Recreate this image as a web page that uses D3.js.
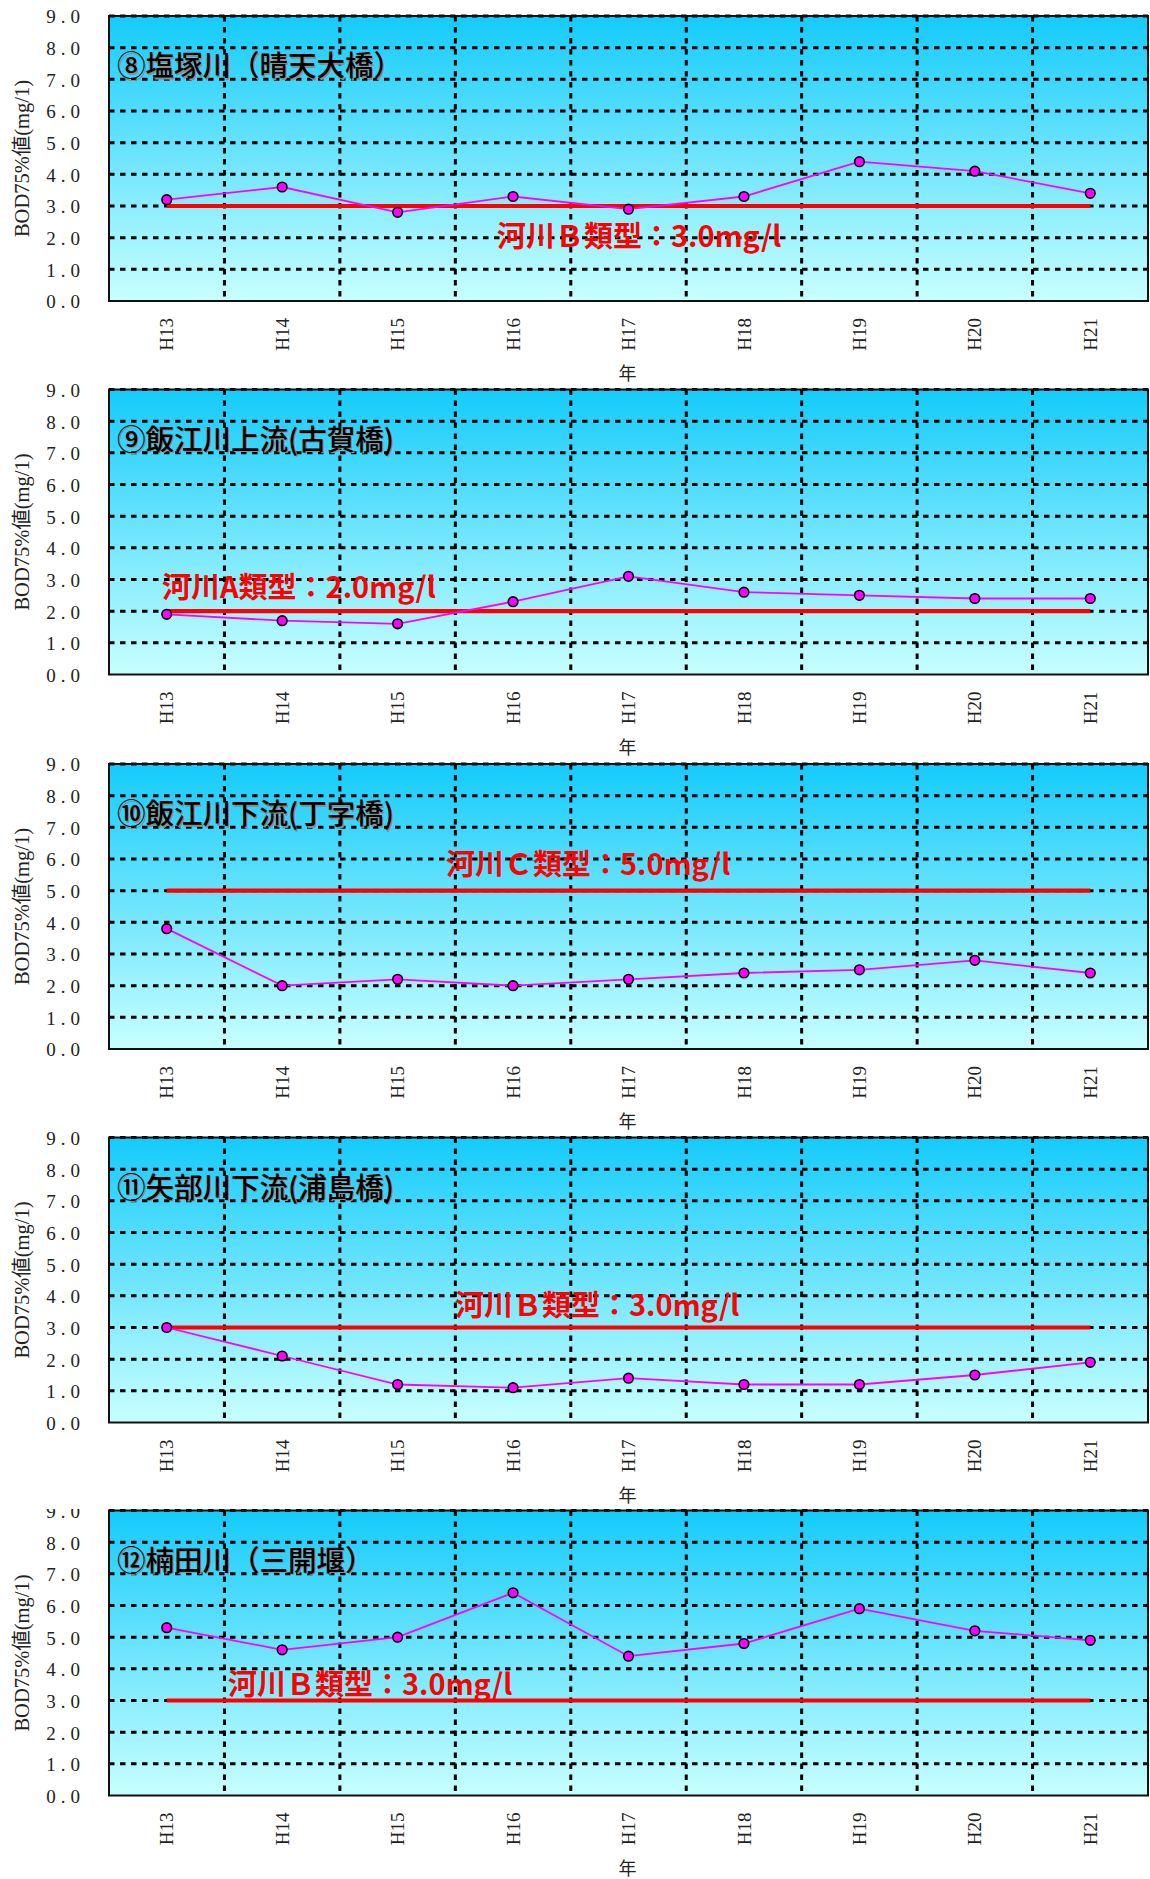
<!DOCTYPE html>
<html>
<head>
<meta charset="utf-8">
<script src="https://cdn.jsdelivr.net/npm/d3@7"></script>
<style>
  html, body { margin: 0; padding: 0; background: #ffffff; }
  svg { display: block; }
</style>
</head>
<body>
<svg id="chart" width="1150" height="1879"></svg>
<script>
// ---- data ----
const years = ["H13", "H14", "H15", "H16", "H17", "H18", "H19", "H20", "H21"];
const yTicks = [0, 1, 2, 3, 4, 5, 6, 7, 8, 9];
const stationNames = [
  "⑧塩塚川（晴天大橋）",
  "⑨飯江川上流(古賀橋)",
  "⑩飯江川下流(丁字橋)",
  "⑪矢部川下流(浦島橋)",
  "⑫楠田川（三開堰）"
];
// BOD 75% values (mg/l) per station, H13..H21
const shiozuka   = [3.2, 3.6, 2.8, 3.3, 2.9, 3.3, 4.4, 4.1, 3.4];
const hakoeUpper = [1.9, 1.7, 1.6, 2.3, 3.1, 2.6, 2.5, 2.4, 2.4];
const hakoeLower = [3.8, 2.0, 2.2, 2.0, 2.2, 2.4, 2.5, 2.8, 2.4];
const yabeLower  = [3.0, 2.1, 1.2, 1.1, 1.4, 1.2, 1.2, 1.5, 1.9];
const kusuda     = [5.3, 4.6, 5.0, 6.4, 4.4, 4.8, 5.9, 5.2, 4.9];
// environmental standard per station
const standardValues = [3.0, 2.0, 5.0, 3.0, 3.0];
const standardLabels = [
  "河川Ｂ類型：3.0mg/l",
  "河川A類型：2.0mg/l",
  "河川Ｃ類型：5.0mg/l",
  "河川Ｂ類型：3.0mg/l",
  "河川Ｂ類型：3.0mg/l"
];
const yAxisTitle = "BOD75%値(mg/1)";
const xAxisTitle = "年";

// ---- layout ----
const series = [shiozuka, hakoeUpper, hakoeLower, yabeLower, kusuda];
const plotLeft = 109, plotRight = 1148;
const panelTops = [16, 389.5, 764, 1137.5, 1510.5];
const panelHeight = 285;
// standard label placement: left offset in plot, vertical centre offset from plot top
const labelPlacement = [
  { left: 388, mid: 221 },
  { left: 53,  mid: 198 },
  { left: 337, mid: 101 },
  { left: 346, mid: 168 },
  { left: 119, mid: 174 }
];

const serif = "'Liberation Serif', 'Noto Sans CJK JP', serif";
const gothic = "'Noto Sans CJK JP', 'Noto Sans', sans-serif";

const svg = d3.select("#chart");
const defs = svg.append("defs");
const grad = defs.append("linearGradient")
  .attr("id", "plotBg").attr("x1", 0).attr("y1", 0).attr("x2", 0).attr("y2", 1);
grad.append("stop").attr("offset", "0%").attr("stop-color", "#14cbfb");
grad.append("stop").attr("offset", "100%").attr("stop-color", "#c8ffff");

defs.append("clipPath").attr("id", "clipLast")
  .append("rect").attr("x", 0).attr("y", 1509).attr("width", 1150).attr("height", 380);

const x = d3.scaleBand().domain(years).range([plotLeft, plotRight]).padding(0);
const xc = d => x(d) + x.bandwidth() / 2;

series.forEach((vals, i) => {
  const top = panelTops[i];
  const bottom = top + panelHeight;
  const y = d3.scaleLinear().domain([0, 9]).range([bottom, top]);
  const g = svg.append("g");
  if (i === series.length - 1) g.attr("clip-path", "url(#clipLast)");

  // plot background
  g.append("rect")
    .attr("x", plotLeft).attr("y", top)
    .attr("width", plotRight - plotLeft).attr("height", panelHeight)
    .attr("fill", "url(#plotBg)");

  // horizontal dashed grid
  g.append("g").selectAll("line")
    .data(yTicks.filter(d => d > 0))
    .join("line")
    .attr("x1", plotLeft).attr("x2", plotRight)
    .attr("y1", d => y(d)).attr("y2", d => y(d))
    .attr("stroke", "#000").attr("stroke-width", 3)
    .attr("stroke-dasharray", "5.5,5.5");

  // vertical dashed grid between years
  g.append("g").selectAll("line")
    .data(years.slice(1))
    .join("line")
    .attr("x1", d => x(d)).attr("x2", d => x(d))
    .attr("y1", top).attr("y2", bottom)
    .attr("stroke", "#000").attr("stroke-width", 3)
    .attr("stroke-dasharray", "5.5,5.5");

  // standard line
  g.append("line")
    .attr("x1", xc(years[0])).attr("x2", xc(years[years.length - 1]))
    .attr("y1", y(standardValues[i])).attr("y2", y(standardValues[i]))
    .attr("stroke", "#ff0000").attr("stroke-width", 4.2);

  // measured values
  const line = d3.line().x((d, j) => xc(years[j])).y(d => y(d));
  g.append("path").datum(vals)
    .attr("d", line)
    .attr("fill", "none").attr("stroke", "#ff00ff").attr("stroke-width", 1.8);
  g.append("g").selectAll("circle")
    .data(vals)
    .join("circle")
    .attr("cx", (d, j) => xc(years[j])).attr("cy", d => y(d))
    .attr("r", 4.8)
    .attr("fill", "#ff00ff").attr("stroke", "#000").attr("stroke-width", 1.6);

  // station title with drop shadow
  const tx = plotLeft + 8, ty = top + 60;
  g.append("text").attr("x", tx + 1.6).attr("y", ty + 1.6)
    .attr("font-family", gothic).attr("font-size", 28.5).attr("font-weight", 500)
    .attr("fill", "#8c8c8c").text(stationNames[i]);
  g.append("text").attr("x", tx).attr("y", ty)
    .attr("font-family", gothic).attr("font-size", 28.5).attr("font-weight", 500)
    .attr("fill", "#000").text(stationNames[i]);

  // standard label
  const lp = labelPlacement[i];
  g.append("text")
    .attr("x", plotLeft + lp.left).attr("y", top + lp.mid)
    .attr("dy", "0.36em")
    .attr("font-family", gothic).attr("font-size", 29).attr("font-weight", 700)
    .attr("fill", "#ff0000").text(standardLabels[i]);

  // plot frame
  g.append("rect")
    .attr("x", plotLeft).attr("y", top)
    .attr("width", plotRight - plotLeft).attr("height", panelHeight)
    .attr("fill", "none").attr("stroke", "#111").attr("stroke-width", 2);

  // y axis
  const ya = g.append("g")
    .attr("transform", `translate(${plotLeft},0)`)
    .call(d3.axisLeft(y).tickValues(yTicks).tickFormat(d3.format(".1f")).tickSize(0).tickPadding(24));
  ya.select(".domain").remove();
  ya.attr("font-family", serif).attr("font-size", 19).attr("color", "#222");
  ya.selectAll("text").attr("letter-spacing", "5px").attr("dy", "0.36em");

  // x axis
  const xa = g.append("g")
    .attr("transform", `translate(0,${bottom})`)
    .call(d3.axisBottom(x).tickSize(0));
  xa.select(".domain").remove();
  xa.attr("font-family", serif).attr("font-size", 19).attr("color", "#222");
  xa.selectAll("text")
    .attr("transform", "rotate(-90)")
    .attr("text-anchor", "end")
    .attr("x", -17).attr("y", 0).attr("dy", "0.35em");

  // axis titles
  g.append("text")
    .attr("transform", `translate(29,${(top + bottom) / 2}) rotate(-90)`)
    .attr("text-anchor", "middle")
    .attr("font-family", serif).attr("font-size", 20.5).attr("fill", "#222")
    .text(yAxisTitle);
  g.append("text")
    .attr("x", (plotLeft + plotRight) / 2 - 1).attr("y", bottom + 73)
    .attr("dy", "0.36em").attr("text-anchor", "middle")
    .attr("font-family", serif).attr("font-size", 18).attr("fill", "#222")
    .text(xAxisTitle);
});
</script>
</body>
</html>
